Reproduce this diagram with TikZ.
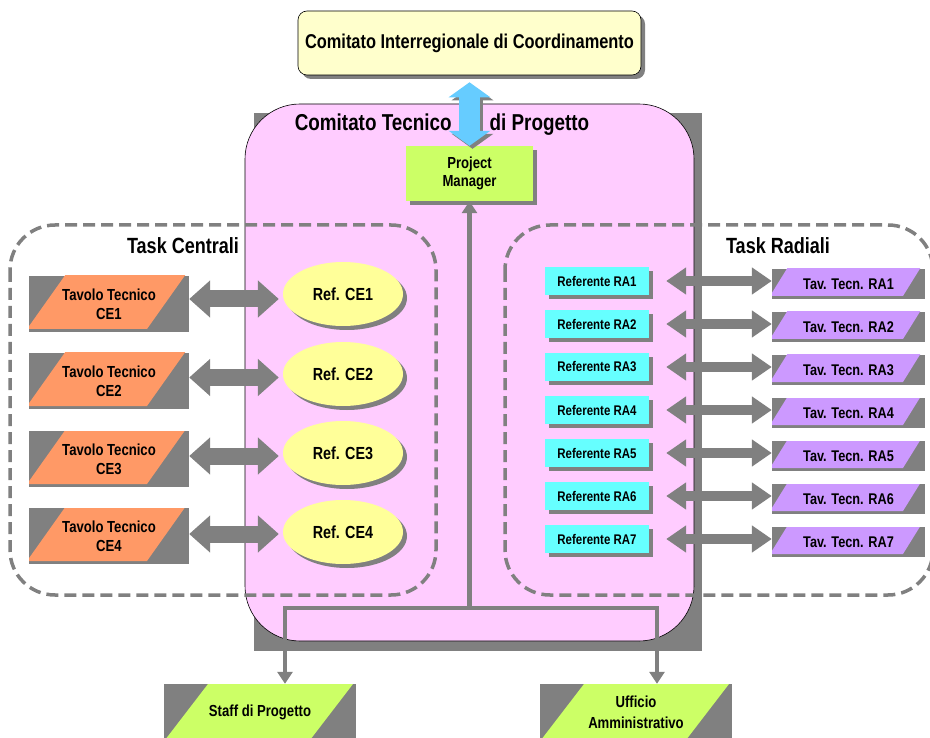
\documentclass[tikz,border=0pt]{standalone}
\usepackage{fontspec}
\setmainfont{Liberation Sans}[FakeStretch=0.82]
\usetikzlibrary{shapes.geometric,shadows,arrows.meta,calc,positioning}

\definecolor{cigray}{HTML}{808080}
\definecolor{cipink}{HTML}{FFCCFF}
\definecolor{cicream}{HTML}{FFFFCC}
\definecolor{ciyellow}{HTML}{FFFF99}
\definecolor{cigreen}{HTML}{CCFF66}
\definecolor{ciblue}{HTML}{66CCFF}
\definecolor{ciorange}{HTML}{FF9966}
\definecolor{cicyan}{HTML}{66FFFF}
\definecolor{civiolet}{HTML}{CC99FF}

\tikzset{
  boxshadow/.style={drop shadow={shadow xshift=4pt,shadow yshift=-4pt,fill=cigray,opacity=1}},
  topbox/.style={rectangle,rounded corners=9pt,draw=black,line width=0.6pt,fill=cicream,
    minimum width=343,minimum height=64,boxshadow,font=\bfseries\fontsize{20}{24}\selectfont},
  pmbox/.style={fill=cigreen,minimum width=127,minimum height=55,inner sep=0pt,align=center,
    boxshadow,font=\bfseries\fontsize{16}{18}\selectfont},
  refce/.style={ellipse,fill=ciyellow,minimum width=120,minimum height=64,inner sep=0pt,
    boxshadow,font=\bfseries\fontsize{17.5}{20}\selectfont},
  refra/.style={fill=cicyan,minimum width=104,minimum height=28,inner sep=0pt,
    boxshadow,font=\bfseries\fontsize{14}{16}\selectfont},
  tavce/.style={fill=cigray,minimum width=160,minimum height=56,inner sep=0pt,align=center,
    font=\bfseries\fontsize{16}{19}\selectfont,
    path picture={\fill[ciorange] ([shift={(-2pt,3pt)}]path picture bounding box.south west)
      -- ++(39pt,55pt) -- ++(120pt,0pt) -- ++(-39pt,-55pt) -- cycle;}},
  tavra/.style={fill=cigray,minimum width=153,minimum height=30,inner sep=0pt,
    font=\bfseries\fontsize{15.5}{18}\selectfont,
    path picture={\fill[civiolet] ([shift={(-2pt,3pt)}]path picture bounding box.south west)
      -- ++(18pt,29pt) -- ++(133pt,0pt) -- ++(-18pt,-29pt) -- cycle;}},
  officecard/.style={fill=cigray,minimum width=192,minimum height=56,inner sep=0pt,align=center,
    font=\bfseries\fontsize{16}{21}\selectfont,
    path picture={\fill[cigreen] ([shift={(1pt,0pt)}]path picture bounding box.south west)
      -- ++(43pt,56pt) -- ++(145pt,0pt) -- ++(-43pt,-56pt) -- cycle;}},
  tasklabel/.style={font=\bfseries\fontsize{22}{26}\selectfont},
  taskframe/.style={draw=cigray,line width=3.5pt,dash pattern=on 12pt off 6pt,rounded corners=45pt},
  fatarrow/.style={draw=cigray,line width=17pt,
    arrows={Triangle[width=36pt,length=21pt]-Triangle[width=36pt,length=21pt]}},
  slimarrow/.style={draw=cigray,line width=10pt,
    arrows={Triangle[width=26pt,length=20pt]-Triangle[width=26pt,length=20pt]}},
  bluearrow/.style={draw=ciblue,line width=21pt,shorten <=7pt,
    arrows={Triangle[width=41pt,length=15pt]-Triangle[width=41pt,length=15pt]}},
  conn/.style={draw=cigray,line width=4.5pt,>={Triangle[width=15pt,length=12pt]}}
}

\begin{document}
\begin{tikzpicture}[x=1pt,y=-1pt]
\useasboundingbox (0,0) rectangle (930,738);

% coordinating committee
\node[topbox] (cic) at (469.5,43) {Comitato Interregionale di Coordinamento};

% technical committee
\fill[cigray] (254,113) rectangle (702,651);
\draw[fill=cipink,line width=0.6pt,rounded corners=55pt] (245,104) rectangle (694,641);
\node[font=\bfseries\fontsize{23}{26}\selectfont] (ctp) at (442,125) {Comitato Tecnico\hspace{38pt}di Progetto};

\node[pmbox] (pm) at (469.5,173.5) {Project\\Manager};
\draw[bluearrow,draw=cigray,transform canvas={shift={(3pt,-3pt)}}] (cic.south) -- (pm.north);
\draw[bluearrow] (cic.south) -- (pm.north);

% task groups
\draw[taskframe] (10,225) rectangle (436,595);
\draw[taskframe] (505,225) rectangle (933,595);
\node[tasklabel] (tcen) at (183,246) {Task Centrali};
\node[tasklabel] (trad) at (778,246) {Task Radiali};

% staff and office
\coordinate (hub) at (469.5,608);
\draw[conn,<-] (pm.south) -- (hub);
\node[officecard] (staff) at (260,712) {Staff di Progetto};
\node[officecard] (uff) at (636,712) {Ufficio\\Amministrativo};
\draw[conn,->] (hub) -| ([xshift=25pt]staff.north);
\draw[conn,->] (hub) -| ([xshift=21pt]uff.north);

% central tasks
\foreach \i/\ty/\ey in {1/304/294,2/381/374,3/459/453,4/536/532}{
  \node[tavce] (tce\i) at (109,\ty) {Tavolo Tecnico\\CE\i};
  \node[refce] (rce\i) at (343,\ey) {Ref. CE\i};
  \coordinate (m\i) at ($(tce\i.east)!.5!(rce\i.west)$);
  \draw[fatarrow] (tce\i.east |- m\i) -- ([xshift=-4pt]rce\i.west |- m\i);
}

% radial tasks
\foreach \i in {1,...,7}{
  \pgfmathsetmacro\ry{281+43*(\i-1)}
  \node[refra] (rra\i) at (597,\ry) {Referente RA\i};
  \node[tavra] (tra\i) at (848.5,\ry+3) {Tav. Tecn. RA\i};
  \draw[slimarrow] ([xshift=17pt]rra\i.east) -- (tra\i.west |- rra\i.east);
}
\end{tikzpicture}
\end{document}
